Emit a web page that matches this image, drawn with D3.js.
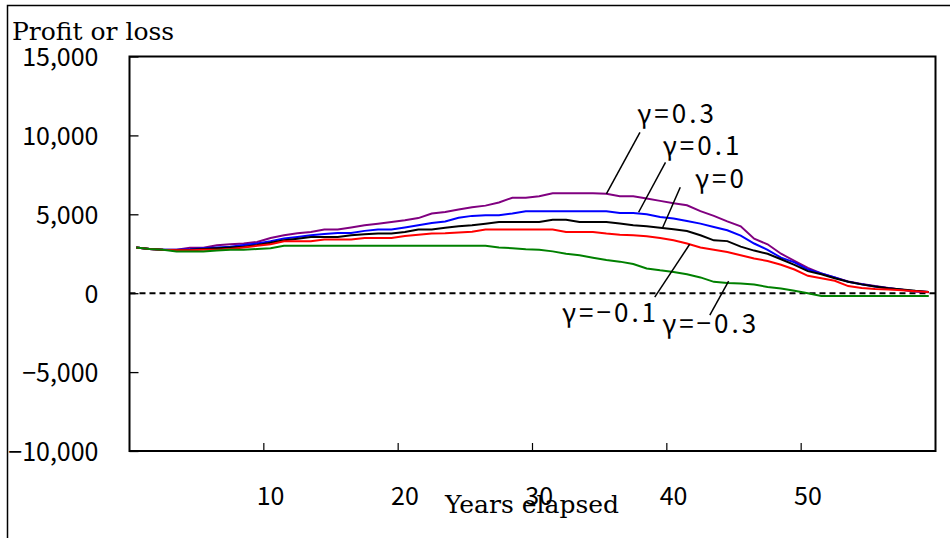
<!DOCTYPE html>
<html>
<head>
<meta charset="utf-8">
<script src="https://cdn.jsdelivr.net/npm/d3@7"></script>
<style>
  body { margin: 0; background: #fff; }
  svg { display: block; }
  .num { font-family: "Noto Sans CJK JP", "Noto Sans", sans-serif; font-size: 25px; fill: #000; }
  .lab { font-size: 26px; letter-spacing: 3px; }
  .serif { font-family: "DejaVu Serif", "Liberation Serif", serif; font-size: 25px; fill: #000; }
</style>
</head>
<body>
<div id="chart"></div>
<script>
const width = 950;
const height = 538;

// years 0..59
const years = d3.range(0, 60);
const xTickYears = [10, 20, 30, 40, 50];
const yTicks = [-10000, -5000, 0, 5000, 10000, 15000];

const gamma03 = [
  2900, 2800, 2750, 2750, 2880, 2880, 3040, 3100, 3150, 3250,
  3500, 3670, 3800, 3880, 4030, 4030, 4160, 4300, 4400, 4510,
  4620, 4760, 5050, 5150, 5300, 5450, 5550, 5750, 6050, 6050,
  6150, 6330, 6330, 6330, 6330, 6300, 6150, 6150, 6000, 5850,
  5700, 5570, 5200, 4900, 4550, 4240, 3450, 3100, 2500, 2050,
  1600, 1250, 1000, 750, 580, 450, 330, 220, 100, 60
];
const gamma01 = [
  2900, 2800, 2750, 2750, 2780, 2850, 2900, 2950, 3050, 3150,
  3290, 3460, 3560, 3670, 3750, 3820, 3820, 3950, 4030, 4030,
  4160, 4300, 4450, 4550, 4780, 4900, 4940, 4940, 5050, 5190,
  5190, 5190, 5190, 5190, 5190, 5190, 5080, 5080, 5000, 4830,
  4730, 4580, 4410, 4200, 3990, 3650, 3150, 2750, 2250, 1950,
  1500, 1250, 1000, 720, 560, 430, 320, 220, 130, 80
];
const gamma0 = [
  2900, 2800, 2750, 2720, 2750, 2800, 2850, 2900, 2950, 3050,
  3200, 3350, 3450, 3560, 3560, 3560, 3670, 3730, 3780, 3780,
  3880, 4030, 4030, 4150, 4240, 4300, 4400, 4510, 4510, 4510,
  4510, 4660, 4660, 4510, 4510, 4510, 4410, 4300, 4240, 4150,
  4050, 3940, 3670, 3350, 3300, 2950, 2700, 2500, 2150, 1800,
  1400, 1200, 950, 720, 560, 420, 320, 240, 150, 80
];
const gammaM01 = [
  2900, 2800, 2750, 2720, 2720, 2750, 2750, 2800, 2900, 3000,
  3100, 3290, 3290, 3290, 3400, 3400, 3400, 3500, 3500, 3500,
  3630, 3700, 3780, 3800, 3850, 3900, 4030, 4030, 4030, 4030,
  4030, 4030, 3880, 3880, 3880, 3780, 3700, 3670, 3610, 3500,
  3350, 3150, 2900, 2750, 2610, 2400, 2200, 2040, 1800, 1500,
  1100, 950, 790, 450, 330, 260, 230, 180, 130, 80
];
const gammaM03 = [
  2900, 2800, 2750, 2650, 2650, 2650, 2700, 2750, 2750, 2800,
  2850, 3000, 3000, 3000, 3000, 3000, 3000, 3000, 3000, 3000,
  3000, 3000, 3000, 3000, 3000, 3000, 3000, 2890, 2850, 2790,
  2760, 2650, 2500, 2400, 2250, 2100, 2000, 1850, 1570, 1450,
  1350, 1200, 1000, 720, 650, 620, 550, 400, 300, 150,
  0, -170, -170, -170, -170, -170, -170, -170, -170, -170
];

// drawn back to front
const series = [
  { name: "γ=0.3", values: gamma03, color: "#800080" },
  { name: "γ=0.1", values: gamma01, color: "#0000ff" },
  { name: "γ=0", values: gamma0, color: "#000000" },
  { name: "γ=−0.1", values: gammaM01, color: "#ff0000" },
  { name: "γ=−0.3", values: gammaM03, color: "#008000" }
];

// leader labels: tip and elbow in [year, value]
const labels = [
  { text: "γ=0.3", tip: [35, 6300], end: [37.5, 10190], at: [37.3, 10760] },
  { text: "γ=0.1", tip: [37.4, 5130], end: [39.4, 8290], at: [39.2, 8730] },
  { text: "γ=0", tip: [39.2, 4180], end: [40.5, 6710], at: [41.6, 6650] },
  { text: "γ=−0.1", tip: [41.2, 3100], end: [38.6, -250], at: [31.7, -1840] },
  { text: "γ=−0.3", tip: [44.1, 760], end: [42.7, -1390], at: [39.15, -2530] }
];

const plot = { left: 129.5, right: 935.5, top: 56.5, bottom: 451 };

const svg = d3.select("#chart")
  .append("svg")
  .attr("width", width)
  .attr("height", height);

// outer frame
svg.append("rect")
  .attr("x", 7.5).attr("y", 5.5)
  .attr("width", 1000).attr("height", 1000)
  .attr("fill", "none").attr("stroke", "#000").attr("stroke-width", 1.5);

const x = d3.scaleBand()
  .domain(years)
  .range([plot.left, plot.right]);
const bw = x.bandwidth();

// continuous version for annotations
const xl = d3.scaleLinear()
  .domain([0, 59])
  .range([x(0) + bw / 2, x(59) + bw / 2]);

const y = d3.scaleLinear()
  .domain([-10000, 15000])
  .range([plot.bottom, plot.top]);

// plot border
svg.append("rect")
  .attr("x", plot.left).attr("y", plot.top)
  .attr("width", plot.right - plot.left).attr("height", plot.bottom - plot.top)
  .attr("fill", "none").attr("stroke", "#000").attr("stroke-width", 2);

// y axis
const yAxis = svg.append("g")
  .attr("transform", `translate(${plot.left},0)`)
  .call(d3.axisLeft(y).tickValues(yTicks).tickSize(-9).tickPadding(31)
    .tickFormat(d3.format(",")));
yAxis.select(".domain").remove();
yAxis.selectAll("line").attr("stroke", "#000").attr("stroke-width", 1.3);
yAxis.selectAll("text").attr("class", "num").attr("font-family", null).attr("font-size", null)
  .attr("dy", "0.36em");

// x axis
const xAxis = svg.append("g")
  .attr("transform", `translate(0,${plot.bottom})`)
  .call(d3.axisBottom(x).tickValues(xTickYears).tickSize(-8).tickPadding(36));
xAxis.select(".domain").remove();
xAxis.selectAll("line")
  .attr("transform", `translate(${-bw / 2},0)`)
  .attr("stroke", "#000").attr("stroke-width", 1.2);
xAxis.selectAll("text").attr("class", "num").attr("font-family", null).attr("font-size", null)
  .attr("dy", "0.71em");

// zero line
svg.append("line")
  .attr("x1", plot.left).attr("x2", plot.right)
  .attr("y1", y(0)).attr("y2", y(0))
  .attr("stroke", "#000").attr("stroke-width", 2)
  .attr("stroke-dasharray", "6,4");

const line = d3.line()
  .x((d, i) => x(years[i]) + bw / 2)
  .y(d => y(d));

svg.selectAll(".series")
  .data(series)
  .enter()
  .append("path")
  .attr("class", "series")
  .attr("fill", "none")
  .attr("stroke", d => d.color)
  .attr("stroke-width", 2)
  .attr("d", d => line(d.values));

// leader lines and labels
svg.selectAll(".leader")
  .data(labels)
  .enter()
  .append("line")
  .attr("class", "leader")
  .attr("x1", d => xl(d.tip[0])).attr("y1", d => y(d.tip[1]))
  .attr("x2", d => xl(d.end[0])).attr("y2", d => y(d.end[1]))
  .attr("stroke", "#000").attr("stroke-width", 1.5);

svg.selectAll(".lab")
  .data(labels)
  .enter()
  .append("text")
  .attr("class", "num lab")
  .attr("x", d => xl(d.at[0]))
  .attr("y", d => y(d.at[1]))
  .text(d => d.text);

// axis titles
svg.append("text")
  .attr("class", "serif")
  .attr("x", 12).attr("y", 40)
  .text("Profit or loss");

svg.append("text")
  .attr("class", "serif")
  .attr("x", 532).attr("y", 513)
  .attr("text-anchor", "middle")
  .text("Years elapsed");
</script>
</body>
</html>
